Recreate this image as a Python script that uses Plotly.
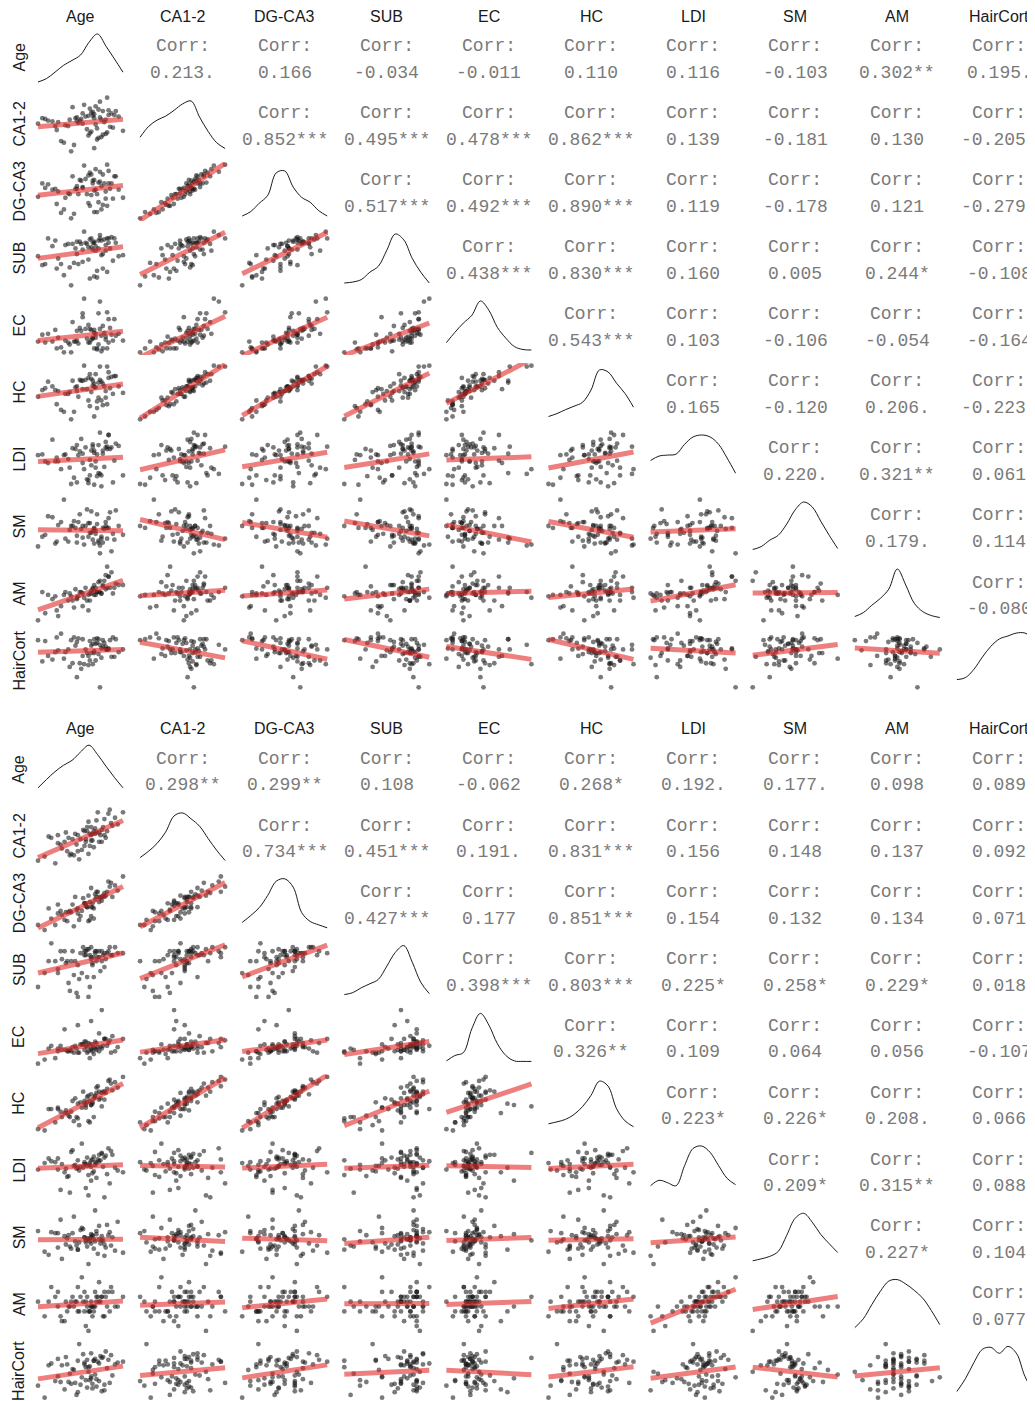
import numpy as np
import plotly.graph_objs as go

# the page body adds an 8px margin, so the figure is drawn 8px smaller and shifted
OFF = 8
FIG_W, FIG_H = 1035 - OFF, 1401 - OFF

variables = ["Age", "CA1-2", "DG-CA3", "SUB", "EC", "HC", "LDI", "SM", "AM", "HairCort"]

# ---- upper block: raw observations (read/estimated from the scatter clouds) ----
top_age = [71, 58, 66, 80, 44, 75, 62, 49, 77, 69, 83, 55, 73, 36, 68, 79, 60, 74, 52, 87, 70, 41, 76, 65, 57, 72,
           84, 31, 67, 78, 53, 70, 81, 63, 47, 74, 59, 90, 69, 38, 76, 66, 50, 79, 72, 61, 56, 82, 45, 73, 68, 34,
           75, 64, 78, 71, 43, 80, 67, 58, 85, 62, 54, 70]
top_ca12 = [52, 61, 38, 70, 45, 58, 66, 29, 55, 63, 48, 74, 35, 59, 67, 42, 57, 81, 50, 62, 22, 56, 69, 46, 60, 33,
            64, 53, 72, 40, 58, 65, 49, 77, 31, 61, 54, 44, 68, 57, 39, 63, 51, 86, 47, 59, 26, 66, 55, 71, 43, 60,
            36, 62, 58, 75, 50, 64, 41, 56, 69, 53, 18, 60]
top_dgca3 = [55, 56, 40, 76, 39, 59, 58, 33, 62, 65, 45, 70, 41, 57, 72, 37, 66, 75, 51, 55, 30, 55, 72, 50, 56, 30,
             70, 47, 74, 45, 50, 66, 56, 82, 29, 64, 50, 46, 62, 61, 38, 71, 46, 83, 50, 65, 28, 62, 53, 63, 49, 62,
             33, 67, 53, 78, 56, 62, 37, 59, 70, 57, 23, 54]
top_sub = [59, 52, 47, 66, 39, 64, 56, 33, 65, 62, 46, 61, 57, 43, 66, 36, 63, 69, 61, 50, 32, 59, 52, 61, 57, 31,
           66, 50, 65, 60, 40, 63, 57, 72, 43, 66, 43, 51, 56, 66, 39, 58, 60, 66, 37, 61, 44, 67, 48, 64, 58, 42,
           51, 62, 55, 55, 64, 62, 30, 63, 62, 45, 24, 62]
top_ec = [33, 30, 28, 52, 22, 35, 58, 18, 38, 32, 30, 49, 26, 28, 41, 22, 43, 70, 28, 37, 22, 29, 45, 32, 29, 21,
          52, 29, 42, 34, 26, 41, 43, 73, 23, 42, 27, 30, 33, 37, 22, 46, 30, 59, 22, 40, 29, 36, 33, 58, 31, 36,
          19, 42, 31, 37, 41, 28, 28, 40, 35, 54, 18, 38]
top_hc = [57, 53, 43, 73, 39, 63, 64, 31, 58, 64, 50, 64, 46, 56, 66, 39, 65, 79, 50, 58, 26, 58, 61, 55, 57, 35,
          69, 47, 71, 46, 52, 61, 56, 80, 33, 65, 47, 51, 59, 63, 38, 67, 50, 79, 42, 64, 31, 68, 53, 62, 52, 54,
          43, 65, 53, 71, 54, 67, 37, 58, 69, 55, 23, 57]
top_ldi = [54, 75, 30, 88, 59, 22, 64, 62, 47, 73, 27, 71, 75, 54, 49, 70, 67, 38, 57, 74, 24, 82, 64, 31, 70, 63,
           55, 62, 36, 72, 46, 65, 70, 44, 44, 91, 62, 36, 76, 52, 68, 26, 63, 73, 35, 83, 33, 72, 54, 39, 68, 63,
           36, 72, 79, 46, 54, 88, 56, 27, 77, 52, 25, 68]
top_sm = [51, 46, 59, 64, 40, 43, 44, 83, 53, 42, 48, 56, 41, 47, 49, 54, 68, 36, 40, 56, 54, 65, 39, 73, 54, 68,
          42, 35, 49, 60, 52, 38, 70, 37, 60, 28, 60, 47, 51, 66, 54, 45, 43, 43, 58, 53, 61, 30, 57, 39, 71, 45,
          45, 56, 56, 48, 38, 54, 59, 39, 72, 56, 56, 53]
top_am = [54, 46, 49, 62, 38, 50, 50, 49, 59, 53, 50, 45, 58, 36, 50, 69, 51, 51, 45, 56, 49, 46, 56, 45, 53, 51,
          54, 31, 45, 63, 50, 52, 54, 47, 41, 59, 48, 56, 54, 49, 55, 38, 51, 54, 51, 51, 40, 65, 34, 51, 52, 51,
          50, 54, 53, 49, 48, 62, 50, 47, 57, 41, 48, 56]
top_haircort = [63, 65, 50, 57, 70, 48, 68, 47, 64, 41, 70, 42, 52, 66, 61, 57, 42, 62, 57, 54, 68, 46, 60, 53, 61,
                69, 49, 67, 45, 60, 38, 55, 67, 41, 74, 16, 69, 57, 63, 50, 67, 40, 54, 57, 64, 36, 70, 49, 56, 68,
                53, 44, 58, 57, 57, 45, 54, 58, 66, 27, 68, 50, 67, 53]

# ---- lower block ----
bot_age = [48, 62, 35, 70, 55, 41, 66, 58, 25, 73, 52, 60, 44, 80, 57, 38, 64, 68, 50, 30, 61, 75, 47, 56, 65, 20,
           59, 71, 43, 63, 53, 78, 40, 67, 58, 33, 62, 49, 72, 55, 45, 69, 60, 28, 64, 51, 76, 57, 37, 66, 61, 84,
           46, 59, 54, 70, 42, 63, 35, 68, 56, 74, 50, 60]
bot_ca12 = [49, 39, 42, 60, 40, 50, 50, 34, 32, 64, 45, 54, 33, 56, 51, 38, 59, 43, 48, 46, 44, 57, 33, 45, 65, 29,
            49, 46, 46, 49, 37, 61, 43, 48, 58, 27, 51, 41, 51, 51, 34, 54, 44, 47, 50, 30, 55, 54, 41, 43, 49, 65,
            45, 40, 52, 48, 36, 53, 48, 52, 43, 67, 36, 48]
bot_dgca3 = [54, 37, 48, 57, 49, 42, 54, 35, 28, 66, 39, 61, 43, 59, 46, 40, 58, 51, 45, 37, 49, 65, 31, 49, 58, 32,
             50, 55, 42, 52, 43, 63, 36, 53, 55, 32, 45, 44, 58, 49, 42, 55, 39, 45, 54, 36, 54, 46, 43, 50, 46, 70,
             48, 36, 53, 54, 35, 56, 41, 54, 47, 62, 41, 46]
bot_sub = [61, 53, 55, 65, 64, 60, 66, 43, 55, 66, 65, 68, 46, 65, 67, 62, 61, 61, 59, 70, 59, 64, 54, 66, 63, 48,
           64, 62, 50, 66, 55, 68, 66, 56, 67, 61, 63, 45, 65, 66, 61, 64, 63, 61, 66, 52, 64, 53, 66, 63, 60, 65,
           66, 48, 68, 58, 61, 65, 57, 66, 64, 68, 43, 62]
bot_ec = [32, 26, 28, 37, 29, 29, 41, 28, 22, 34, 33, 30, 29, 31, 31, 29, 34, 58, 47, 32, 28, 27, 27, 35, 31, 19,
          33, 37, 28, 30, 33, 28, 44, 31, 34, 23, 31, 30, 32, 35, 28, 32, 50, 30, 29, 27, 39, 27, 32, 28, 33, 37,
          31, 23, 33, 37, 28, 35, 30, 30, 32, 36, 27, 29]
bot_hc = [56, 42, 49, 61, 52, 47, 61, 39, 32, 69, 53, 59, 42, 64, 57, 42, 64, 50, 52, 48, 53, 67, 39, 51, 65, 33,
          54, 60, 43, 57, 49, 68, 45, 56, 58, 38, 56, 42, 63, 54, 46, 61, 51, 48, 60, 36, 62, 53, 46, 55, 52, 72,
          54, 38, 61, 55, 45, 58, 48, 60, 49, 70, 41, 51]
bot_ldi = [55, 48, 62, 20, 58, 51, 66, 44, 57, 73, 53, 60, 25, 49, 63, 56, 41, 68, 52, 59, 46, 70, 54, 30, 61, 50,
           57, 65, 43, 55, 78, 52, 47, 60, 22, 58, 64, 51, 45, 56, 69, 53, 38, 62, 57, 49, 66, 54, 28, 59, 61, 47,
           71, 55, 52, 63, 42, 58, 50, 67, 56, 35, 60, 53]
bot_sm = [52, 45, 60, 38, 56, 49, 67, 54, 42, 58, 63, 50, 47, 71, 55, 35, 59, 53, 44, 61, 57, 48, 76, 51, 40, 62,
          55, 46, 58, 52, 65, 43, 57, 50, 30, 60, 54, 48, 68, 56, 45, 53, 59, 39, 62, 51, 56, 47, 73, 54, 58, 41,
          60, 52, 64, 49, 55, 82, 46, 57, 53, 61, 44, 56]
bot_am = [12, 10, 14, 9, 10, 12, 16, 10, 9, 14, 13, 11, 11, 11, 13, 8, 12, 13, 10, 15, 9, 15, 11, 7, 13, 12, 10, 13,
          11, 14, 17, 11, 8, 12, 6, 13, 11, 12, 11, 14, 12, 9, 11, 12, 13, 10, 14, 11, 9, 12, 11, 13, 13, 10, 12,
          14, 10, 11, 11, 13, 12, 10, 15, 12]
bot_haircort = [38, 62, 45, 30, 58, 66, 40, 55, 22, 63, 36, 70, 48, 60, 33, 57, 42, 65, 28, 59, 37, 68, 52, 41, 61,
                35, 56, 72, 39, 64, 44, 58, 31, 67, 50, 40, 62, 25, 54, 60, 37, 66, 43, 57, 34, 80, 46, 63, 39, 59,
                32, 61, 53, 41, 69, 36, 58, 47, 64, 29, 55, 38, 62, 45]

# ---- correlation labels (upper triangle, row by row) ----
top_corr = [
    ["0.213.", "0.166", "-0.034", "-0.011", "0.110", "0.116", "-0.103", "0.302**", "0.195."],
    ["0.852***", "0.495***", "0.478***", "0.862***", "0.139", "-0.181", "0.130", "-0.205."],
    ["0.517***", "0.492***", "0.890***", "0.119", "-0.178", "0.121", "-0.279*"],
    ["0.438***", "0.830***", "0.160", "0.005", "0.244*", "-0.108"],
    ["0.543***", "0.103", "-0.106", "-0.054", "-0.164"],
    ["0.165", "-0.120", "0.206.", "-0.223."],
    ["0.220.", "0.321**", "0.061"],
    ["0.179.", "0.114"],
    ["-0.080"],
]
bot_corr = [
    ["0.298**", "0.299**", "0.108", "-0.062", "0.268*", "0.192.", "0.177.", "0.098", "0.089"],
    ["0.734***", "0.451***", "0.191.", "0.831***", "0.156", "0.148", "0.137", "0.092"],
    ["0.427***", "0.177", "0.851***", "0.154", "0.132", "0.134", "0.071"],
    ["0.398***", "0.803***", "0.225*", "0.258*", "0.229*", "0.018"],
    ["0.326**", "0.109", "0.064", "0.056", "-0.107"],
    ["0.223*", "0.226*", "0.208.", "0.066"],
    ["0.209*", "0.315**", "0.088"],
    ["0.227*", "0.104"],
    ["0.077"],
]

# ---- diagonal densities, relative height read at 11 evenly spaced points ----
dens_grid = [0.0, 0.1, 0.2, 0.3, 0.4, 0.5, 0.6, 0.7, 0.8, 0.9, 1.0]
top_dens = [
    [0.0, 0.07, 0.2, 0.34, 0.44, 0.55, 0.81, 0.98, 0.73, 0.47, 0.2],
    [0.24, 0.46, 0.59, 0.67, 0.79, 0.92, 0.98, 0.65, 0.36, 0.13, 0.01],
    [0.0, 0.09, 0.26, 0.42, 0.88, 0.92, 0.59, 0.38, 0.28, 0.11, 0.0],
    [0.0, 0.02, 0.07, 0.22, 0.34, 0.67, 1.0, 0.88, 0.5, 0.22, 0.0],
    [0.15, 0.36, 0.55, 0.71, 1.0, 0.81, 0.46, 0.24, 0.07, 0.01, 0.0],
    [0.01, 0.07, 0.15, 0.22, 0.3, 0.55, 0.96, 0.92, 0.69, 0.48, 0.2],
    [0.48, 0.57, 0.59, 0.61, 0.81, 0.96, 1.0, 0.96, 0.81, 0.53, 0.22],
    [0.03, 0.09, 0.22, 0.32, 0.55, 0.84, 1.0, 0.9, 0.61, 0.32, 0.05],
    [0.03, 0.11, 0.26, 0.4, 0.59, 1.0, 0.67, 0.3, 0.13, 0.05, 0.01],
    [0.11, 0.15, 0.32, 0.57, 0.79, 0.94, 1.0, 1.06, 1.06, 0.94, 0.75],
]
bot_dens = [
    [0.13, 0.3, 0.46, 0.59, 0.69, 0.86, 1.0, 0.81, 0.57, 0.34, 0.13],
    [0.07, 0.2, 0.36, 0.59, 0.92, 0.98, 0.86, 0.71, 0.46, 0.22, 0.01],
    [0.11, 0.25, 0.41, 0.66, 0.95, 1.0, 0.83, 0.31, 0.13, 0.06, 0.0],
    [0.0, 0.04, 0.14, 0.22, 0.31, 0.58, 0.86, 1.0, 0.66, 0.25, 0.02],
    [0.01, 0.12, 0.18, 0.67, 0.98, 0.74, 0.36, 0.12, 0.01, 0.0, 0.0],
    [0.09, 0.13, 0.18, 0.28, 0.44, 0.67, 0.96, 0.86, 0.4, 0.15, 0.03],
    [0.19, 0.3, 0.25, 0.19, 0.6, 0.95, 1.0, 0.87, 0.6, 0.34, 0.21],
    [0.02, 0.06, 0.11, 0.21, 0.54, 0.89, 0.99, 0.81, 0.56, 0.37, 0.19],
    [0.02, 0.2, 0.49, 0.76, 0.97, 1.0, 0.91, 0.78, 0.62, 0.37, 0.08],
    [0.08, 0.34, 0.67, 0.94, 0.98, 0.86, 1.0, 0.86, 0.39, 0.08, -0.07],
]

blocks = [
    dict(data=[top_age, top_ca12, top_dgca3, top_sub, top_ec, top_hc, top_ldi, top_sm, top_am, top_haircort],
         corr=top_corr, dens=top_dens, row0=57.5, pitch=67.0, head=16.5),
    dict(data=[bot_age, bot_ca12, bot_dgca3, bot_sub, bot_ec, bot_hc, bot_ldi, bot_sm, bot_am, bot_haircort],
         corr=bot_corr, dens=bot_dens, row0=769.7, pitch=66.8, head=728.5),
]

# screen-pixel geometry of the panel grid
col_c = [80.5 + 102.1 * j for j in range(10)]
HALF_W, HALF_H = 46.75, 29.5
SANS = "Liberation Sans, Arial, Helvetica, sans-serif"
MONO = "Courier New, Liberation Mono, monospace"


def px(x):
    return (x - OFF) / FIG_W


def py(y):
    return 1 - (y - OFF) / FIG_H


def xdomain(c):
    x0, x1 = px(c - HALF_W), px(c + HALF_W)
    frac = 1.0
    if x1 > 1:
        frac = (1 - x0) / (x1 - x0)
        x1 = 1.0
    return [x0, x1], frac


fig = go.Figure()
axes = {}
annotations = []
n = 0

for b in blocks:
    data = [np.array(v, dtype=float) for v in b["data"]]
    for j, name in enumerate(variables):
        annotations.append(dict(x=px(col_c[j]), y=py(b["head"]), text=name, showarrow=False,
                                xref="paper", yref="paper", xanchor="center", yanchor="middle",
                                font=dict(family=SANS, size=16, color="#1a1a1a")))
    for i in range(10):
        rc = b["row0"] + b["pitch"] * i
        annotations.append(dict(x=px(19), y=py(rc), text=variables[i], textangle=-90, showarrow=False,
                                xref="paper", yref="paper", xanchor="center", yanchor="middle",
                                font=dict(family=SANS, size=16, color="#1a1a1a")))
        ydom = [py(rc + HALF_H), py(rc - HALF_H)]
        for j in range(10):
            if j > i:
                # correlation text
                txt = b["corr"][i][j - i - 1]
                for label, dy in (("Corr:", -11.0), (txt, 15.5)):
                    annotations.append(dict(x=px(col_c[j]), y=py(rc + dy), text=label, showarrow=False,
                                            xref="paper", yref="paper", xanchor="center", yanchor="middle",
                                            font=dict(family=MONO, size=18, color="#7a7a7a")))
                continue
            n += 1
            xa, ya = ("x", "y") if n == 1 else (f"x{n}", f"y{n}")
            xd, frac = xdomain(col_c[j])
            if i == j:
                r0, r1 = -0.05, 1.05
                fig.add_trace(go.Scatter(x=dens_grid, y=b["dens"][i], mode="lines", xaxis=xa, yaxis=ya,
                                         line=dict(color="black", width=0.9, shape="spline", smoothing=1.0),
                                         hoverinfo="skip", showlegend=False))
                yr = [-0.102, 1.102]
            else:
                xv, yv = data[j], data[i]
                sx = xv.max() - xv.min()
                sy = yv.max() - yv.min()
                r0, r1 = xv.min() - 0.05 * sx, xv.max() + 0.05 * sx
                yr = [yv.min() - 0.05 * sy, yv.max() + 0.05 * sy]
                fig.add_trace(go.Scatter(x=xv, y=yv, mode="markers", xaxis=xa, yaxis=ya,
                                         marker=dict(size=4.8, color="rgba(25,25,25,0.58)", line=dict(width=0)),
                                         hoverinfo="skip", showlegend=False))
                # least-squares line, as geom_smooth(method = "lm")
                slope, icpt = np.polyfit(xv, yv, 1)
                xs = np.array([xv.min(), xv.max()])
                fig.add_trace(go.Scatter(x=xs, y=slope * xs + icpt, mode="lines", xaxis=xa, yaxis=ya,
                                         line=dict(color="rgba(225,35,35,0.58)", width=5),
                                         hoverinfo="skip", showlegend=False))
            xr = [r0, r0 + (r1 - r0) * frac]
            key = "" if n == 1 else str(n)
            axes["xaxis" + key] = dict(domain=xd, range=xr, visible=False, anchor=ya, fixedrange=True)
            axes["yaxis" + key] = dict(domain=ydom, range=yr, visible=False, anchor=xa, fixedrange=True)

fig.update_layout(
    width=FIG_W, height=FIG_H,
    margin=dict(l=0, r=0, t=0, b=0),
    paper_bgcolor="white", plot_bgcolor="white",
    showlegend=False,
    annotations=annotations,
    **axes,
)

fig.write_html("out.html")
